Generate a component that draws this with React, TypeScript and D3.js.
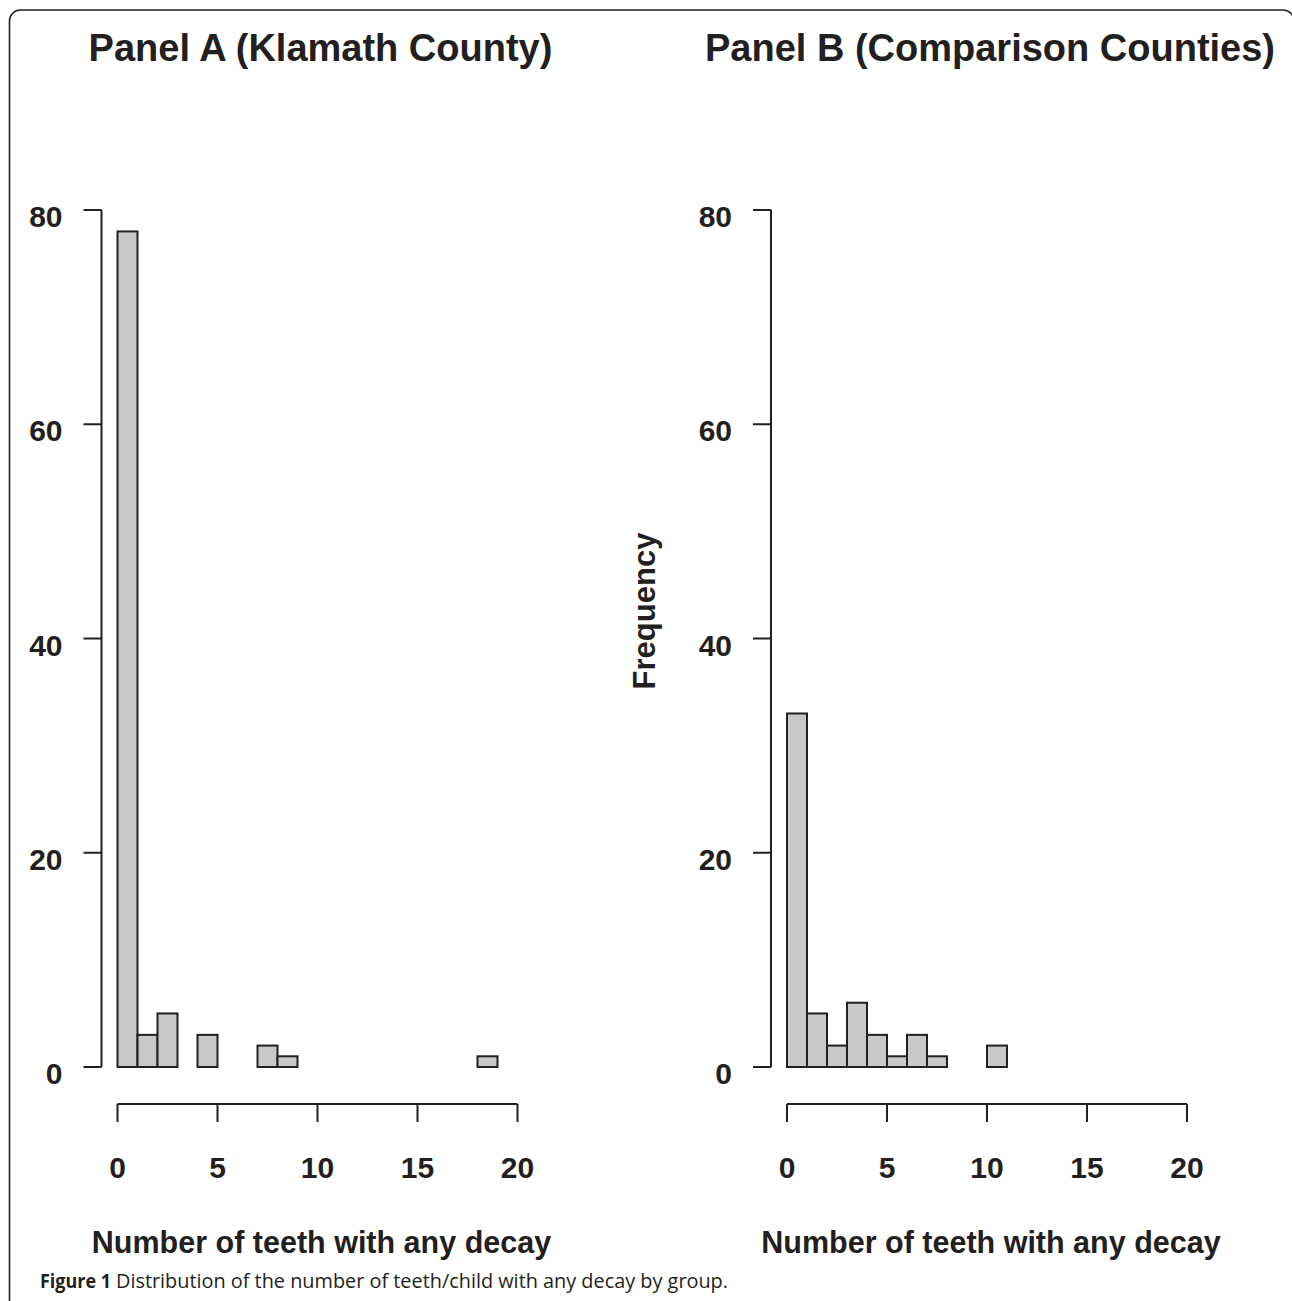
import React from 'react';
import * as d3 from 'd3';

// ---- data ----
const binStarts = [0, 1, 2, 3, 4, 5, 6, 7, 8, 9, 10, 11, 12, 13, 14, 15, 16, 17, 18, 19];
const binWidth = 1;
const countsKlamath = [78, 3, 5, 0, 3, 0, 0, 2, 1, 0, 0, 0, 0, 0, 0, 0, 0, 0, 1, 0];
const countsComparison = [33, 5, 2, 6, 3, 1, 3, 1, 0, 0, 2, 0, 0, 0, 0, 0, 0, 0, 0, 0];
const xTicks = [0, 5, 10, 15, 20];
const yTicks = [0, 20, 40, 60, 80];
const titleA = 'Panel A (Klamath County)';
const titleB = 'Panel B (Comparison Counties)';
const xLabel = 'Number of teeth with any decay';
const yLabel = 'Frequency';
const captionBold = 'Figure 1';
const captionText = 'Distribution of the number of teeth/child with any decay by group.';

const W = 1292;
const H = 1301;
const INK = '#231f20';
const FILL = '#c7c8ca';
const FONT = "'Liberation Sans', Arial, Helvetica, sans-serif";
const CAPFONT = "'Open Sans', 'Noto Sans', sans-serif";

type PanelProps = {
  counts: number[];
  title: string;
  left: number;
  showYLabel: boolean;
};

function Panel({ counts, title, left, showYLabel }: PanelProps) {
  const x = d3.scaleLinear().domain([0, 20]).range([left, left + 400]);
  const y = d3.scaleLinear().domain([0, 80]).range([1067, 210]);
  const axisX = left - 16;
  const xAxisY = 1104;
  const tickLen = 18;
  const cx = (x(0) + x(20)) / 2 + 3;
  return (
    <g>
      <text x={cx} y={61} textAnchor="middle" fontFamily={FONT} fontWeight="bold" fontSize={38} fill={INK}>
        {title}
      </text>
      {/* bars */}
      {binStarts.map((b, i) => (
        <rect
          key={i}
          x={x(b)}
          y={y(counts[i])}
          width={x(b + binWidth) - x(b)}
          height={y(0) - y(counts[i])}
          fill={FILL}
          stroke={INK}
          strokeWidth={2}
        />
      ))}
      {/* y axis */}
      <line x1={axisX} x2={axisX} y1={y(0)} y2={y(80)} stroke={INK} strokeWidth={2} />
      {yTicks.map((t) => (
        <g key={t}>
          <line x1={axisX - tickLen} x2={axisX} y1={y(t)} y2={y(t)} stroke={INK} strokeWidth={2} />
          <text x={left - 55} y={y(t) + 17} textAnchor="end" fontFamily={FONT} fontWeight="bold" fontSize={30} fill={INK}>
            {t}
          </text>
        </g>
      ))}
      {/* x axis */}
      <line x1={x(0)} x2={x(20)} y1={xAxisY} y2={xAxisY} stroke={INK} strokeWidth={2} />
      {xTicks.map((t) => (
        <g key={t}>
          <line x1={x(t)} x2={x(t)} y1={xAxisY} y2={xAxisY + tickLen} stroke={INK} strokeWidth={2} />
          <text x={x(t)} y={1178} textAnchor="middle" fontFamily={FONT} fontWeight="bold" fontSize={30} fill={INK}>
            {t}
          </text>
        </g>
      ))}
      <text x={cx + 1} y={1253} textAnchor="middle" fontFamily={FONT} fontWeight="bold" fontSize={30.5} fill={INK}>
        {xLabel}
      </text>
      {showYLabel && (
        <text
          transform={`translate(${left - 132},611) rotate(-90)`}
          textAnchor="middle"
          fontFamily={FONT}
          fontWeight="bold"
          fontSize={31}
          fill={INK}
        >
          {yLabel}
        </text>
      )}
    </g>
  );
}

export default function App() {
  return (
    <svg
      width={W}
      height={H}
      viewBox={`0 0 ${W} ${H}`}
      style={{ position: 'absolute', left: 0, top: 0, background: '#fff' }}
    >
      <rect x={0} y={0} width={W} height={H} fill="#fff" />
      <path
        d={`M9.5,${H + 5} V21 A11,11 0 0 1 20.5,10 H1283 A11,11 0 0 1 1294,21 V${H + 5}`}
        fill="none"
        stroke={INK}
        strokeWidth={1.6}
      />
      <Panel counts={countsKlamath} title={titleA} left={117.5} showYLabel={false} />
      <Panel counts={countsComparison} title={titleB} left={787} showYLabel={true} />
      <text
        x={40}
        y={1288}
        fontFamily={CAPFONT}
        fontSize={20}
        fontWeight="bold"
        fill={INK}
        textLength={71}
        lengthAdjust="spacingAndGlyphs"
      >
        {captionBold}
      </text>
      <text
        x={116}
        y={1288}
        fontFamily={CAPFONT}
        fontSize={20}
        fill={INK}
        textLength={612}
        lengthAdjust="spacingAndGlyphs"
      >
        {captionText}
      </text>
    </svg>
  );
}
